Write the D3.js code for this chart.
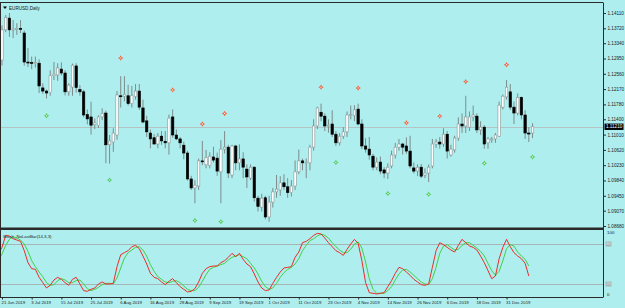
<!DOCTYPE html>
<meta charset="utf-8">
<style>
  body { margin: 0; background: #afeeee; }
  svg text { font-family: "Liberation Sans", Arial, sans-serif; fill: #1a1a1a; }
</style>
<div id="chart"></div>
<script src="https://d3js.org/d3.v7.min.js"></script>
<script>

    // EURUSD daily bars, 20 Jun 2019 .. 10 Jan 2020
    const dates = [
        "2019-06-20","2019-06-21","2019-06-24","2019-06-25","2019-06-26","2019-06-27","2019-06-28","2019-07-01","2019-07-02","2019-07-03",
        "2019-07-04","2019-07-05","2019-07-08","2019-07-09","2019-07-10","2019-07-11","2019-07-12","2019-07-15","2019-07-16","2019-07-17",
        "2019-07-18","2019-07-19","2019-07-22","2019-07-23","2019-07-24","2019-07-25","2019-07-26","2019-07-29","2019-07-30","2019-07-31",
        "2019-08-01","2019-08-02","2019-08-05","2019-08-06","2019-08-07","2019-08-08","2019-08-09","2019-08-12","2019-08-13","2019-08-14",
        "2019-08-15","2019-08-16","2019-08-19","2019-08-20","2019-08-21","2019-08-22","2019-08-23","2019-08-26","2019-08-27","2019-08-28",
        "2019-08-29","2019-08-30","2019-09-02","2019-09-03","2019-09-04","2019-09-05","2019-09-06","2019-09-09","2019-09-10","2019-09-11",
        "2019-09-12","2019-09-13","2019-09-16","2019-09-17","2019-09-18","2019-09-19","2019-09-20","2019-09-23","2019-09-24","2019-09-25",
        "2019-09-26","2019-09-27","2019-09-30","2019-10-01","2019-10-02","2019-10-03","2019-10-04","2019-10-07","2019-10-08","2019-10-09",
        "2019-10-10","2019-10-11","2019-10-14","2019-10-15","2019-10-16","2019-10-17","2019-10-18","2019-10-21","2019-10-22","2019-10-23",
        "2019-10-24","2019-10-25","2019-10-28","2019-10-29","2019-10-30","2019-10-31","2019-11-01","2019-11-04","2019-11-05","2019-11-06",
        "2019-11-07","2019-11-08","2019-11-11","2019-11-12","2019-11-13","2019-11-14","2019-11-15","2019-11-18","2019-11-19","2019-11-20",
        "2019-11-21","2019-11-22","2019-11-25","2019-11-26","2019-11-27","2019-11-28","2019-11-29","2019-12-02","2019-12-03","2019-12-04",
        "2019-12-05","2019-12-06","2019-12-09","2019-12-10","2019-12-11","2019-12-12","2019-12-13","2019-12-16","2019-12-17","2019-12-18",
        "2019-12-19","2019-12-20","2019-12-23","2019-12-24","2019-12-26","2019-12-27","2019-12-30","2019-12-31","2020-01-02","2020-01-03",
        "2020-01-06","2020-01-07","2020-01-08","2020-01-09","2020-01-10"
    ];

    const open = [
        1.1227,1.1291,1.1368,1.1398,1.1368,1.1370,1.1372,1.1360,1.1286,1.1285,
        1.1282,1.1283,1.1220,1.1212,1.1208,1.1251,1.1253,1.1268,1.1258,1.1210,
        1.1222,1.1276,1.1216,1.1210,1.1152,1.1146,1.1126,1.1124,1.1146,1.1156,
        1.1075,1.1082,1.1100,1.1200,1.1199,1.1200,1.1180,1.1198,1.1212,1.1169,
        1.1136,1.1105,1.1093,1.1077,1.1097,1.1084,1.1080,1.1146,1.1100,1.1090,
        1.1074,1.1054,1.0988,1.0965,1.0970,1.1034,1.1024,1.1022,1.1044,1.1041,
        1.1006,1.1064,1.1069,1.0998,1.1072,1.1029,1.1039,1.1013,1.0990,1.1018,
        1.0939,1.0916,1.0940,1.0891,1.0929,1.0955,1.0960,1.0978,1.0968,1.0953,
        1.0970,1.1006,1.1034,1.1029,1.1029,1.1069,1.1123,1.1158,1.1148,1.1123,
        1.1128,1.1102,1.1080,1.1097,1.1108,1.1151,1.1150,1.1166,1.1128,1.1072,
        1.1064,1.1046,1.1018,1.1031,1.1011,1.1003,1.1021,1.1049,1.1069,1.1077,
        1.1072,1.1059,1.1016,1.1008,1.1018,1.0998,1.1003,1.1021,1.1077,1.1082,
        1.1077,1.1102,1.1049,1.1062,1.1092,1.1128,1.1123,1.1120,1.1146,1.1148,
        1.1113,1.1120,1.1080,1.1089,1.1090,1.1097,1.1171,1.1197,1.1210,1.1171,
        1.1156,1.1196,1.1151,1.1105,1.1105
    ];
    const high = [
        1.1313,1.1379,1.1406,1.1411,1.1393,1.1385,1.1393,1.1366,1.1322,1.1300,
        1.1300,1.1293,1.1232,1.1216,1.1265,1.1286,1.1283,1.1285,1.1265,1.1232,
        1.1282,1.1283,1.1227,1.1215,1.1165,1.1185,1.1142,1.1150,1.1168,1.1162,
        1.1100,1.1117,1.1212,1.1250,1.1250,1.1228,1.1225,1.1230,1.1230,1.1190,
        1.1149,1.1114,1.1102,1.1105,1.1110,1.1110,1.1152,1.1165,1.1114,1.1095,
        1.1083,1.1060,1.0996,1.0985,1.1040,1.1085,1.1062,1.1056,1.1070,1.1055,
        1.1087,1.1110,1.1075,1.1075,1.1075,1.1076,1.1056,1.1025,1.1025,1.1020,
        1.0945,1.0950,1.0945,1.0945,1.0965,1.0998,1.0995,1.1000,1.0990,1.0985,
        1.1035,1.1063,1.1040,1.1040,1.1075,1.1140,1.1172,1.1180,1.1155,1.1140,
        1.1163,1.1110,1.1105,1.1120,1.1160,1.1175,1.1176,1.1180,1.1140,1.1092,
        1.1095,1.1052,1.1043,1.1045,1.1018,1.1028,1.1060,1.1080,1.1090,1.1080,
        1.1094,1.1098,1.1030,1.1025,1.1026,1.1015,1.1025,1.1090,1.1090,1.1095,
        1.1117,1.1110,1.1075,1.1098,1.1145,1.1155,1.1200,1.1160,1.1175,1.1155,
        1.1135,1.1125,1.1095,1.1095,1.1105,1.1185,1.1203,1.1240,1.1230,1.1185,
        1.1206,1.1198,1.1163,1.1120,1.1130
    ];
    const low = [
        1.1225,1.1277,1.1362,1.1350,1.1347,1.1355,1.1360,1.1277,1.1273,1.1268,
        1.1272,1.1207,1.1205,1.1193,1.1200,1.1240,1.1238,1.1252,1.1201,1.1200,
        1.1200,1.1208,1.1200,1.1145,1.1127,1.1101,1.1115,1.1118,1.1138,1.1028,
        1.1027,1.1057,1.1088,1.1170,1.1186,1.1175,1.1170,1.1190,1.1164,1.1130,
        1.1095,1.1066,1.1076,1.1066,1.1075,1.1066,1.1050,1.1093,1.1087,1.1066,
        1.1038,1.0984,1.0960,1.0926,1.0960,1.1023,1.1015,1.1015,1.1030,1.0996,
        1.0926,1.1053,1.0990,1.0990,1.1010,1.1010,1.0990,1.0965,1.0985,1.0930,
        1.0905,1.0905,1.0885,1.0879,1.0915,1.0940,1.0945,1.0960,1.0940,1.0943,
        1.0960,1.1000,1.1010,1.0990,1.1010,1.1060,1.1115,1.1135,1.1110,1.1106,
        1.1095,1.1072,1.1073,1.1090,1.1095,1.1140,1.1135,1.1125,1.1064,1.1055,
        1.1037,1.1010,1.1010,1.1000,1.0990,1.0988,1.1015,1.1040,1.1060,1.1050,
        1.1052,1.1015,1.1002,1.0995,1.0990,1.0990,1.0980,1.1015,1.1067,1.1065,
        1.1070,1.1040,1.1045,1.1055,1.1085,1.1105,1.1105,1.1110,1.1135,1.1105,
        1.1100,1.1065,1.1065,1.1080,1.1080,1.1095,1.1165,1.1190,1.1164,1.1128,
        1.1150,1.1140,1.1090,1.1082,1.1092
    ];
    const close = [
        1.1290,1.1368,1.1400,1.1368,1.1370,1.1372,1.1370,1.1286,1.1285,1.1283,
        1.1285,1.1225,1.1212,1.1207,1.1251,1.1255,1.1271,1.1258,1.1210,1.1227,
        1.1278,1.1221,1.1210,1.1151,1.1141,1.1125,1.1131,1.1146,1.1155,1.1075,
        1.1085,1.1105,1.1202,1.1199,1.1204,1.1180,1.1200,1.1212,1.1171,1.1133,
        1.1108,1.1090,1.1077,1.1097,1.1085,1.1080,1.1143,1.1100,1.1090,1.1080,
        1.1054,1.0988,1.0965,1.0972,1.1034,1.1033,1.1042,1.1046,1.1036,1.1008,
        1.1064,1.1069,1.1003,1.1072,1.1029,1.1039,1.1018,1.0993,1.1018,1.0940,
        1.0918,1.0939,1.0891,1.0929,1.0955,1.0962,1.0978,1.0968,1.0953,1.0970,
        1.1006,1.1034,1.1029,1.1031,1.1069,1.1123,1.1169,1.1148,1.1123,1.1125,
        1.1102,1.1080,1.1097,1.1108,1.1151,1.1152,1.1164,1.1128,1.1072,1.1064,
        1.1049,1.1018,1.1031,1.1008,1.1003,1.1018,1.1049,1.1069,1.1077,1.1069,
        1.1059,1.1021,1.1008,1.1018,1.0995,1.1003,1.1018,1.1077,1.1082,1.1077,
        1.1102,1.1059,1.1064,1.1092,1.1128,1.1123,1.1146,1.1146,1.1151,1.1113,
        1.1120,1.1077,1.1090,1.1090,1.1100,1.1176,1.1199,1.1222,1.1171,1.1156,
        1.1196,1.1151,1.1105,1.1103,1.1121
    ];

    // Stoch_NoLastBar(14,3,3): main (red) and signal (green), last bar not drawn
    const stochMain = [
        65,75,93,92,88,86,84,70,52,43,
        42,30,22,14,18,26,30,27,22,18,
        27,30,20,10,9,12,14,20,23,20,
        20,21,46,64,67,70,76,78,73,62,
        50,36,30,28,23,19,24,28,22,16,
        12,8,9,13,23,36,43,46,47,47,
        52,55,60,66,61,66,57,50,46,35,
        23,14,10,11,21,30,38,44,45,46,
        60,68,82,84,88,93,96,95,89,82,
        76,70,67,63,72,80,87,81,55,22,
        7,6,5,6,7,16,25,36,45,43,
        38,33,27,23,19,18,20,45,70,82,
        79,75,71,68,78,87,82,77,75,71,
        62,52,40,28,32,58,75,87,76,67,
        62,58,51,32
    ];
    const stochSignal = [
        55,65,78,87,91,89,86,80,69,55,
        46,38,31,22,18,19,25,28,26,22,
        22,25,26,20,13,10,12,15,19,21,
        21,20,29,44,59,67,71,75,76,71,
        62,49,39,31,27,23,22,24,25,22,
        17,12,10,10,15,24,34,42,45,47,
        49,51,56,60,62,64,61,58,51,44,
        35,24,16,12,14,21,30,37,42,45,
        50,58,70,78,85,88,92,95,93,89,
        82,76,71,67,67,72,80,83,74,53,
        28,12,6,6,6,10,16,26,35,41,
        42,38,33,28,23,20,19,28,45,66,
        77,79,75,71,72,78,82,82,78,74,
        69,62,51,40,33,39,55,73,79,77,
        68,62,57,47
    ];

    // arrow markers above (orange) and below (green) the bars
    const upMarkDates   = ["2019-08-06","2019-08-26","2019-09-05","2019-09-13","2019-10-21","2019-11-04","2019-11-21","2019-12-04","2019-12-13","2019-12-31"];
    const upMarkPrices  = [1.1296,1.1215,1.1128,1.1155,1.1222,1.1220,1.1131,1.1148,1.1236,1.1279];
    const dnMarkDates   = ["2019-07-09","2019-08-01","2019-09-03","2019-09-12","2019-10-25","2019-11-14","2019-11-29","2019-12-20","2020-01-10"];
    const dnMarkPrices  = [1.1149,1.0985,1.0882,1.0879,1.1030,1.0951,1.0949,1.1028,1.1044];

    const priceTicks = [1.14110,1.13720,1.13340,1.12950,1.12560,1.12170,1.11780,1.11400,1.11010,1.10620,1.10230,1.09840,1.09450,1.09070,1.08680];
    const dateTickLabels = ["21 Jun 2019","3 Jul 2019","15 Jul 2019","25 Jul 2019","6 Aug 2019","16 Aug 2019","28 Aug 2019","9 Sep 2019",
                            "19 Sep 2019","1 Oct 2019","11 Oct 2019","23 Oct 2019","4 Nov 2019","14 Nov 2019","26 Nov 2019","6 Dec 2019",
                            "18 Dec 2019","31 Dec 2019"];
    const stochLevels = [80, 20];
    const currentPrice = 1.11210;

    const width = 625, height = 308;
    const plotRight = 603;

    const parse = d3.timeParse("%Y-%m-%d");
    const fmt = d3.timeFormat("%-d %b %Y");
    const dateLabel = dates.map(d => fmt(parse(d)));
    const idxOf = d => dates.indexOf(d);

    const x = d3.scaleLinear()
                .domain([0, dates.length - 1])
                .range([-1.71, -1.71 + 3.71 * (dates.length - 1)]);
    const y = d3.scaleLinear()
                .domain([1.08680, 1.14110])
                .range([226, 13]);
    const ys = d3.scaleLinear()
                 .domain([0, 100])
                 .range([297.3, 230.7]);

    const svg = d3.select("#chart")
                  .append("svg")
                  .attr("width", width)
                  .attr("height", height);

    svg.append("rect").attr("width", width).attr("height", height).attr("fill", "#afeeee");

    const defs = svg.append("defs");
    defs.append("clipPath").attr("id", "clipMain")
        .append("rect").attr("x", 1).attr("y", 3).attr("width", plotRight - 1).attr("height", 224.5);
    defs.append("clipPath").attr("id", "clipSub")
        .append("rect").attr("x", 1).attr("y", 230).attr("width", plotRight - 1).attr("height", 67.5);

    // ---- main window ----
    const main = svg.append("g").attr("clip-path", "url(#clipMain)");

    main.append("line")
        .attr("x1", 0).attr("x2", plotRight)
        .attr("y1", Math.round(y(currentPrice)) + 0.5).attr("y2", Math.round(y(currentPrice)) + 0.5)
        .attr("stroke", "#b4c4c4").attr("stroke-width", 1);

    const bars = d3.range(dates.length);

    main.append("g")
        .attr("stroke", "#7d8c8c")
        .attr("stroke-width", 1)
        .selectAll("line")
        .data(bars)
        .join("line")
        .attr("x1", i => x(i)).attr("x2", i => x(i))
        .attr("y1", i => y(high[i])).attr("y2", i => y(low[i]));

    main.append("g")
        .selectAll("rect")
        .data(bars)
        .join("rect")
        .attr("x", i => x(i) - 1.2)
        .attr("width", 2.4)
        .attr("y", i => y(Math.max(open[i], close[i])))
        .attr("height", i => Math.max(1, Math.abs(y(open[i]) - y(close[i]))))
        .attr("fill", i => close[i] >= open[i] ? "#ffffff" : "#000000")
        .attr("stroke", i => close[i] >= open[i] ? "#8a9898" : "#000000")
        .attr("stroke-width", 0.6);

    const sparkle = {
        draw(ctx, size) {
            const r = Math.sqrt(size) / 2, s = r * 0.35;
            ctx.moveTo(0, -r); ctx.lineTo(s, -s); ctx.lineTo(r, 0); ctx.lineTo(s, s);
            ctx.lineTo(0, r); ctx.lineTo(-s, s); ctx.lineTo(-r, 0); ctx.lineTo(-s, -s);
            ctx.closePath();
        }
    };
    const marks = [
        {dates: upMarkDates, prices: upMarkPrices, color: "#f0603a"},
        {dates: dnMarkDates, prices: dnMarkPrices, color: "#4ccc5a"}
    ];
    marks.forEach(m => {
        const g = main.append("g");
        g.selectAll("path")
         .data(m.dates)
         .join("path")
         .attr("transform", (d, j) => `translate(${x(idxOf(d))},${y(m.prices[j])})`)
         .attr("d", d3.symbol().type(sparkle).size(30))
         .attr("fill", m.color);
        g.selectAll("circle")
         .data(m.dates)
         .join("circle")
         .attr("cx", d => x(idxOf(d)))
         .attr("cy", (d, j) => y(m.prices[j]))
         .attr("r", 0.7)
         .attr("fill", "#fff4ea");
    });

    // header
    svg.append("path").attr("d", "M3,6.5 L7,6.5 L5,9 Z").attr("fill", "#000");
    svg.append("text").attr("x", 9).attr("y", 9.5).style("font-size", "4.6px").text("EURUSD,Daily");

    // ---- stochastic window ----
    const sub = svg.append("g").attr("clip-path", "url(#clipSub)");

    sub.selectAll(".level")
       .data(stochLevels)
       .join("line")
       .attr("class", "level")
       .attr("x1", 0).attr("x2", plotRight)
       .attr("y1", d => Math.round(ys(d)) + 0.5).attr("y2", d => Math.round(ys(d)) + 0.5)
       .attr("stroke", "#a8b4b4").attr("stroke-width", 1);

    const stochIdx = d3.range(stochMain.length);
    [[stochSignal, "#44d044"], [stochMain, "#ee2a2a"]].forEach(([vals, color]) => {
        sub.append("path")
           .datum(stochIdx)
           .attr("fill", "none")
           .attr("stroke", color)
           .attr("stroke-width", 1)
           .attr("d", d3.line().x(i => x(i)).y(i => ys(vals[i])));
    });

    svg.append("text").attr("x", 3).attr("y", 238).style("font-size", "4.3px").text("Stoch_NoLastBar(14,3,3)");

    // ---- frames ----
    const frame = svg.append("g").attr("stroke", "#2a2a2a").attr("fill", "none");
    frame.append("line").attr("x1", 0).attr("x2", plotRight).attr("y1", 2.5).attr("y2", 2.5);
    frame.append("line").attr("x1", 0.5).attr("x2", 0.5).attr("y1", 2.5).attr("y2", 297.5);
    frame.append("line").attr("x1", 0).attr("x2", plotRight).attr("y1", 297.5).attr("y2", 297.5);
    svg.append("rect").attr("x", 0).attr("y", 227.5).attr("width", plotRight + 0.5).attr("height", 2.5).attr("fill", "#2a2a2a");

    // price axis
    const yAxis = svg.append("g")
                     .attr("transform", `translate(${plotRight + 0.5},0)`)
                     .call(d3.axisRight(y).tickValues(priceTicks).tickSize(2.5).tickPadding(1.5).tickFormat(d3.format(".5f")));
    yAxis.select(".domain").attr("d", "M0,2.5V297.5").attr("stroke", "#2a2a2a");
    yAxis.selectAll("line").attr("stroke", "#2a2a2a");
    yAxis.selectAll("text").style("font-size", "4.6px").attr("fill", "#1a1a1a");

    // current price tag
    svg.append("rect")
       .attr("x", plotRight + 1.5).attr("y", y(currentPrice) - 3.2)
       .attr("width", 19).attr("height", 6.4).attr("fill", "#000");
    svg.append("text")
       .attr("x", plotRight + 3).attr("y", y(currentPrice))
       .attr("dominant-baseline", "middle")
       .style("font-size", "4.6px").style("fill", "#fff")
       .text(d3.format(".5f")(currentPrice));

    // stochastic scale
    const sAxis = svg.append("g").attr("transform", `translate(${plotRight + 0.5},0)`);
    sAxis.selectAll("text.lim")
         .data([100, 0])
         .join("text")
         .attr("class", "lim")
         .attr("x", 3.5).attr("y", d => ys(d) + (d === 100 ? 2.2 : -2.2))
         .attr("dominant-baseline", "middle")
         .style("font-size", "4.4px")
         .text(d => d);
    sAxis.selectAll("rect.lvl")
         .data(stochLevels)
         .join("rect")
         .attr("class", "lvl")
         .attr("x", 2).attr("y", d => ys(d) - 2.5)
         .attr("width", 6).attr("height", 5)
         .attr("fill", "#a8b4b4");
    sAxis.selectAll("text.lvl")
         .data(stochLevels)
         .join("text")
         .attr("class", "lvl")
         .attr("x", 2.8).attr("y", d => ys(d))
         .attr("dominant-baseline", "middle")
         .style("font-size", "4px").style("fill", "#dfe8e8")
         .text(d => d);

    // date axis
    const dateTicks = dateTickLabels.map(l => dateLabel.indexOf(l));
    const xAxis = svg.append("g")
                     .attr("transform", "translate(0,297.5)")
                     .call(d3.axisBottom(x).tickValues(dateTicks).tickSize(2).tickPadding(1.5).tickFormat(i => dateLabel[i]));
    xAxis.select(".domain").remove();
    xAxis.selectAll("line").attr("stroke", "#2a2a2a");
    xAxis.selectAll("text")
         .attr("text-anchor", "start")
         .attr("dx", -1)
         .style("font-size", "4.3px")
         .attr("fill", "#1a1a1a");

</script>
